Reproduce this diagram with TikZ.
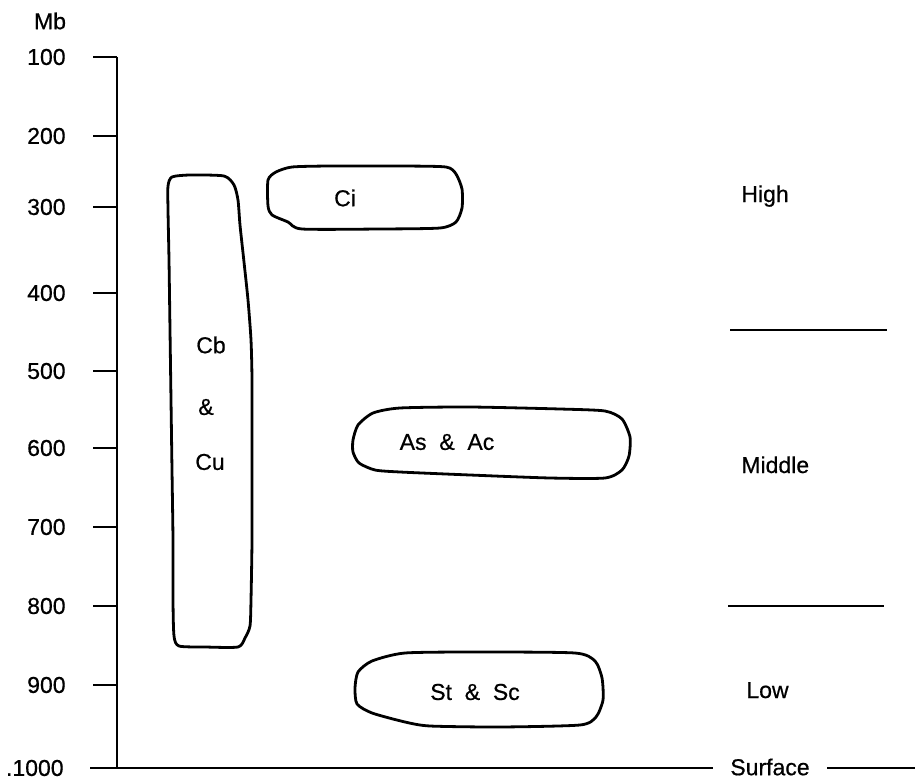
\documentclass[tikz,border=0pt]{standalone}
\usepackage{fontspec}
\setmainfont[UprightFeatures={FakeBold=0.6}]{Liberation Sans}
\usetikzlibrary{positioning}

\tikzset{
  lbl/.style={font=\fontsize{23}{26}\selectfont, inner sep=0pt},
  cloud/.style={line width=2.8pt, line join=round},
}

\begin{document}
\begin{tikzpicture}[x=1pt, y=-1pt, line width=2.8pt]
   \useasboundingbox (0,0) rectangle (915,781);
   % pressure axis
   \coordinate (top) at (117,57);
   \coordinate (base) at (117,768);
   \coordinate (rend) at (915,768);
   \coordinate (hm1) at (730,330);
   \coordinate (hm2) at (887,330);
   \coordinate (ml1) at (728,606);
   \coordinate (ml2) at (884,606);
   \begin{scope}[every node/.style={lbl}]
    \node (mb) at (50,21) {Mb};
    \foreach \p/\y in {100/57,200/136,300/207,400/293,500/371,600/448,700/527,800/606,900/685}
      \node[anchor=east] (p\p) at (67,\y) {\p};
    \node[anchor=east] (p1000) at (65,768) {.1000};
    % cloud names
    \node (cb) at (211,345) {Cb};
    \node (amp) at (206,407) {\&};
    \node (cu) at (210,462) {Cu};
    \node (ci) at (345,198) {Ci};
    \node (asac) at (447,442) {As\ \ \&\ \ Ac};
    \node (stsc) at (475,692) {St\ \ \&\ \ Sc};
    % levels
    \node[anchor=base west] (high) at (740,202) {High};
    \node[anchor=base west] (middle) at (740,473) {Middle};
    \node[anchor=base west] (low) at (745,698) {Low};
    \node[inner xsep=16pt] (surface) at (770,767) {Surface};
   \end{scope}
   \draw (top) -- (base);
   \foreach \p in {100,200,...,900}
     \draw (p\p.east) ++(26,0) -- (p\p -| top);
   \draw (p1000.east) ++(25,0) -- (base -| surface.west);
   \draw (base -| surface.east) -- (rend);
   \draw (hm1) -- (hm2);
   \draw (ml1) -- (ml2);
   % clouds
   \draw[cloud] plot[smooth cycle, tension=0.4] coordinates {
     (168,186) (172,177) (190,175) (224,176) (234,185) (238,200) (240,225)
     (244,262) (248,300) (251,340) (252,380) (252,460) (252,540) (251,600)
     (250,626) (245,638) (238,647) (205,647) (179,646) (174,636) (173,600)
     (173,540) (172,470) (171,400) (170,330) (169,260) (168,210)};
   \draw[cloud] plot[smooth cycle, tension=0.4] coordinates {
     (268,180) (276,172) (292,167) (330,166) (400,166) (446,167) (456,174)
     (462,189) (462,208) (456,222) (440,228) (380,229) (302,229) (288,222)
     (272,215) (268,206)};
   \draw[cloud] plot[smooth cycle, tension=0.4] coordinates {
     (353,440) (358,425) (373,413) (400,408) (470,407) (560,409) (605,411)
     (622,419) (630,437) (629,456) (622,470) (605,478) (550,478) (470,475)
     (400,472) (375,470) (359,463) (353,452)};
   \draw[cloud] plot[smooth cycle, tension=0.4] coordinates {
     (355,688) (358,672) (372,661) (405,653) (480,652) (575,653) (595,661)
     (602,678) (603,700) (596,717) (580,725) (500,727) (430,726) (405,722)
     (372,713) (357,704)};
\end{tikzpicture}
\end{document}
